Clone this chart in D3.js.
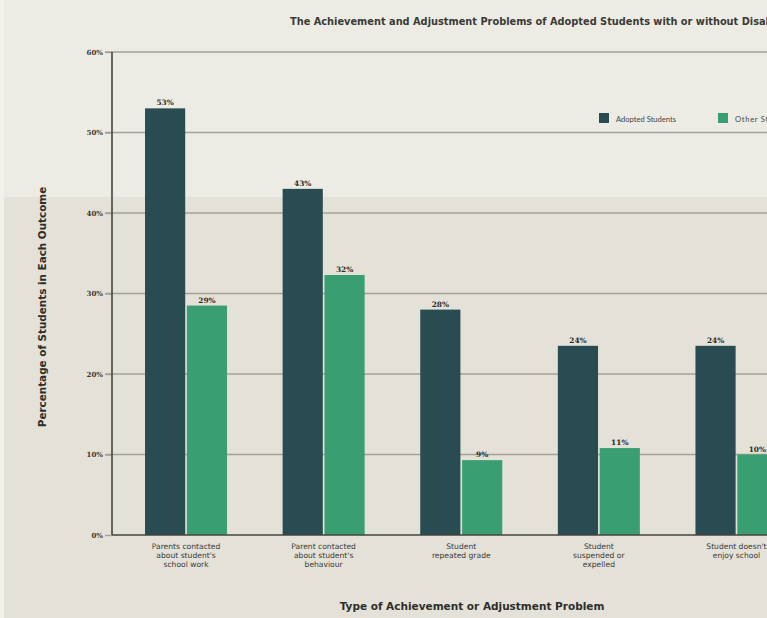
<!DOCTYPE html>
<html>
<head>
<meta charset="utf-8">
<script src="https://cdn.jsdelivr.net/npm/d3@7"></script>
<style>
  html, body { margin: 0; padding: 0; background: #e4e2da; overflow: hidden; }
  svg { display: block; font-family: "DejaVu Sans", Lato, sans-serif; }
</style>
</head>
<body>
<svg id="chart" width="767" height="618"></svg>
<script>
// Outcome categories (each label split into lines)
const categories = [
  "Parents contacted|about student's|school work",
  "Parent contacted|about student's|behaviour",
  "Student|repeated grade",
  "Student|suspended or|expelled",
  "Student doesn't|enjoy school"
];
const seriesNames = ["Adopted Students", "Other Students"];
const adoptedValues = [53, 43, 28, 23.5, 23.5];
const otherValues = [28.5, 32.3, 9.3, 10.8, 10];
const yTicks = [0, 10, 20, 30, 40, 50, 60];

const colors = { "Adopted Students": "#284c51", "Other Students": "#3a9e73" };

const svg = d3.select("#chart");
const W = 767, H = 618;

// backdrop: lighter upper panel over a warmer lower panel
svg.append("rect").attr("width", W).attr("height", H).attr("fill", "#e3e1d8");
svg.append("rect").attr("width", W).attr("height", 197).attr("fill", "#edece4");
svg.append("rect").attr("x", 0).attr("width", 4).attr("height", H).attr("fill", "#f1f0ea");

const x0 = 112, yTop = 52, yBottom = 535;
const y = d3.scaleLinear().domain([0, 60]).range([yBottom, yTop]);
const x = d3.scaleBand().domain(categories).range([x0, 810.5])
  .paddingInner(0.404).paddingOuter(0.24);
const xs = d3.scaleBand().domain(seriesNames).range([0, x.bandwidth()]).paddingInner(0.04);

// gridlines with tick stubs left of the axis
const grid = svg.append("g");
grid.selectAll("line").data(yTicks.filter(d => d > 0)).join("line")
  .attr("x1", 105).attr("x2", W)
  .attr("y1", d => y(d)).attr("y2", d => y(d))
  .attr("stroke", "#a3a199").attr("stroke-width", 1.4);

// y axis
const yAxis = d3.axisLeft(y).tickValues(yTicks).tickFormat(d => d + "%").tickSize(7).tickPadding(2);
const gy = svg.append("g").attr("transform", `translate(${x0},0)`).call(yAxis);
gy.select(".domain").remove();
gy.selectAll(".tick line").attr("stroke", "#a3a199").attr("stroke-width", 1.4);
gy.selectAll(".tick text").attr("fill", "#3a3a36").attr("font-size", 7)
  .attr("font-weight", "bold").attr("font-family", "'DejaVu Serif', serif");

// bars
const rows = categories.map((c, i) => ({
  cat: c,
  vals: [
    { s: seriesNames[0], v: adoptedValues[i] },
    { s: seriesNames[1], v: otherValues[i] }
  ]
}));

const groups = svg.append("g").selectAll("g").data(rows).join("g")
  .attr("transform", d => `translate(${x(d.cat)},0)`);

groups.selectAll("rect").data(d => d.vals).join("rect")
  .attr("x", d => xs(d.s)).attr("width", xs.bandwidth())
  .attr("y", d => y(d.v)).attr("height", d => y(0) - y(d.v))
  .attr("fill", d => colors[d.s]);

groups.selectAll("text").data(d => d.vals).join("text")
  .attr("x", d => xs(d.s) + xs.bandwidth() / 2)
  .attr("y", d => y(d.v) - 3)
  .attr("text-anchor", "middle")
  .attr("font-size", 7.4).attr("font-weight", "bold")
  .attr("font-family", "'DejaVu Serif', serif")
  .attr("fill", "#2b2b28")
  .text(d => Math.round(d.v) + "%");

// axis lines
svg.append("line").attr("x1", x0).attr("x2", x0).attr("y1", yTop).attr("y2", yBottom)
  .attr("stroke", "#45443f").attr("stroke-width", 1.6);
svg.append("line").attr("x1", x0).attr("x2", W).attr("y1", yBottom).attr("y2", yBottom)
  .attr("stroke", "#45443f").attr("stroke-width", 1.6);

// category labels
const catLabels = svg.append("g").selectAll("text").data(categories).join("text")
  .attr("x", d => x(d) + x.bandwidth() / 2)
  .attr("y", 549)
  .attr("text-anchor", "middle")
  .attr("font-size", 7.6).attr("fill", "#3a3a36");
catLabels.selectAll("tspan").data(d => d.split("|")).join("tspan")
  .attr("x", function () { return d3.select(this.parentNode).attr("x"); })
  .attr("dy", (d, i) => i === 0 ? 0 : 9.2)
  .text(d => d);

// axis titles
svg.append("text").attr("x", 472).attr("y", 610).attr("text-anchor", "middle")
  .attr("font-size", 10.5).attr("font-weight", "bold").attr("fill", "#2e2e2b")
  .text("Type of Achievement or Adjustment Problem");
svg.append("text").attr("transform", "translate(46,307) rotate(-90)")
  .attr("text-anchor", "middle").attr("font-size", 10.4).attr("font-weight", "bold")
  .attr("fill", "#2e2e2b").text("Percentage of Students in Each Outcome");

// title
svg.append("text").attr("x", 290).attr("y", 25)
  .attr("font-size", 9.8).attr("font-weight", "bold").attr("fill", "#3a3a36")
  .text("The Achievement and  Adjustment Problems of Adopted Students with or without Disabilities");

// legend
const legend = svg.append("g").selectAll("g").data(seriesNames).join("g")
  .attr("transform", (d, i) => `translate(${599 + i * 119},113)`);
legend.append("rect").attr("width", 10).attr("height", 10).attr("fill", d => colors[d]);
legend.append("text").attr("x", 17).attr("y", 8.5)
  .attr("font-size", 7.6).attr("fill", "#444").attr("font-family", "Lato, sans-serif")
  .attr("textLength", 60).text(d => d);
</script>
</body>
</html>
